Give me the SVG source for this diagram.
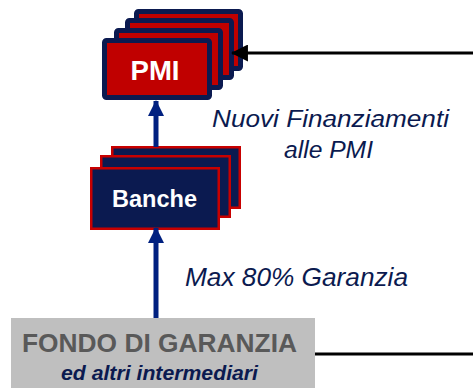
<svg xmlns="http://www.w3.org/2000/svg" width="473" height="388" viewBox="0 0 473 388">
<defs>
<style>
.pmi{fill:#c00000;stroke:#0b1a50;stroke-width:5}
.bank{fill:#0b1a50;stroke:#c80000;stroke-width:2.5}
.lbl{font-family:"Liberation Sans",Arial,sans-serif;font-style:italic;fill:#0b1a4f}
.bold{font-family:"Liberation Sans",Arial,sans-serif;font-weight:bold}
.arrowblue{stroke:#002080;stroke-width:5;fill:none}
.black{stroke:#000;stroke-width:3;fill:none}
</style>
<marker id="hb" viewBox="0 0 16 16" refX="15" refY="8" markerWidth="16" markerHeight="16" markerUnits="userSpaceOnUse" orient="auto">
<path d="M0,0 L16,8 L0,16 Z" fill="#002080"/>
</marker>
<marker id="hk" viewBox="0 0 16 16" refX="15" refY="8" markerWidth="17" markerHeight="17" markerUnits="userSpaceOnUse" orient="auto">
<path d="M0,0 L16,8 L0,16 Z" fill="#000"/>
</marker>
</defs>
<rect width="473" height="388" fill="#fff"/>
<g id="fondo">
<rect x="11" y="318" width="304" height="72" fill="#bfbfbf"/>
<text class="bold" x="159.5" y="352" font-size="25.5" fill="#595959" text-anchor="middle" textLength="275" lengthAdjust="spacingAndGlyphs">FONDO DI GARANZIA</text>
<text class="bold" x="159.5" y="380" font-size="20.5" font-style="italic" fill="#0b1a50" text-anchor="middle" textLength="197" lengthAdjust="spacingAndGlyphs">ed altri intermediari</text>
</g>
<g id="banche">
<rect class="bank" x="112.25" y="147.25" width="127.5" height="60.5"/>
<rect class="bank" x="101.25" y="156.25" width="128.5" height="60.5"/>
<rect class="bank" x="91.25" y="168.25" width="127.5" height="60.5"/>
<text class="bold" x="154.5" y="207" font-size="23" fill="#fff" text-anchor="middle" textLength="85" lengthAdjust="spacingAndGlyphs">Banche</text>
</g>
<g id="pmi">
<rect class="pmi" x="136.5" y="11.5" width="104" height="57" rx="2"/>
<rect class="pmi" x="127.5" y="20.5" width="104" height="57" rx="2"/>
<rect class="pmi" x="116.5" y="30.5" width="104" height="57" rx="2"/>
<rect class="pmi" x="104.5" y="40.5" width="105" height="57" rx="2"/>
<text class="bold" x="155" y="80" font-size="28" fill="#fff" text-anchor="middle" textLength="49" lengthAdjust="spacingAndGlyphs">PMI</text>
</g>
<g id="connectors">
<line class="arrowblue" x1="156" y1="147" x2="156" y2="101" marker-end="url(#hb)"/>
<line class="arrowblue" x1="156" y1="318" x2="156" y2="228" marker-end="url(#hb)"/>
<line class="black" x1="473" y1="53" x2="232" y2="53" marker-end="url(#hk)"/>
<line class="black" x1="315" y1="354" x2="473" y2="354"/>
</g>
<g id="labels">
<text class="lbl" x="330.5" y="127" font-size="24.5" text-anchor="middle" textLength="237" lengthAdjust="spacingAndGlyphs">Nuovi Finanziamenti</text>
<text class="lbl" x="328.5" y="158" font-size="24.5" text-anchor="middle" textLength="89" lengthAdjust="spacingAndGlyphs">alle PMI</text>
<text class="lbl" x="296.5" y="286" font-size="25" text-anchor="middle" textLength="223" lengthAdjust="spacingAndGlyphs">Max 80% Garanzia</text>
</g>
</svg>
